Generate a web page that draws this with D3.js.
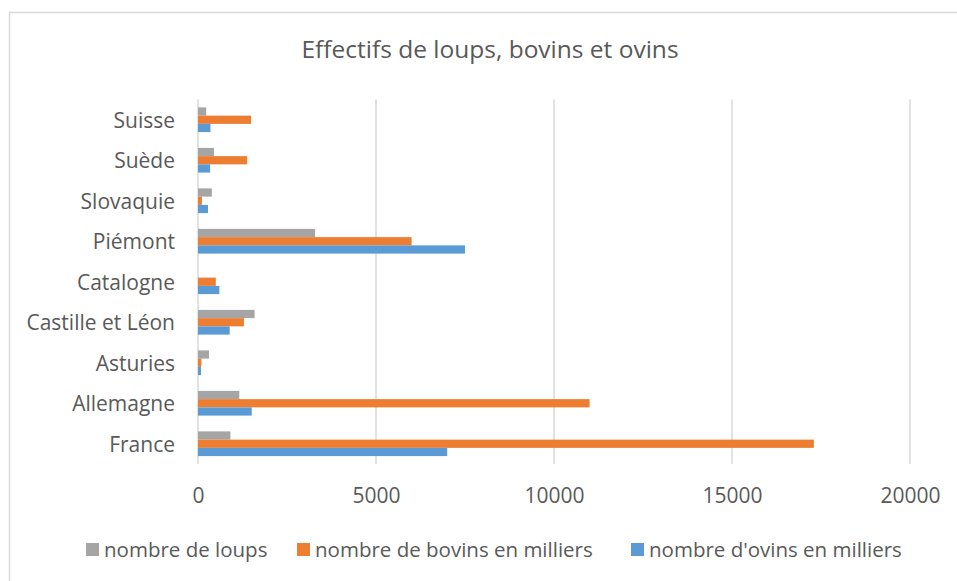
<!DOCTYPE html>
<html><head><meta charset="utf-8">
<script src="https://cdn.jsdelivr.net/npm/d3@7"></script>
<style>body{margin:0;background:#fff}svg{display:block}text{font-family:"Open Sans",sans-serif;fill:#595959}</style>
</head><body>
<svg id="c" width="957" height="581"></svg>
<script>
const categories = ["France","Allemagne","Asturies","Castille et Léon","Catalogne","Piémont","Slovaquie","Suède","Suisse"];
const seriesNames = ["nombre de loups","nombre de bovins en milliers","nombre d'ovins en milliers"];
const loups  = [910, 1160, 310, 1590, 0, 3290, 390, 450, 230];
const bovins = [17300, 11000, 95, 1290, 500, 6000, 110, 1380, 1490];
const ovins  = [7000, 1510, 85, 890, 600, 7500, 280, 340, 350];
const xTicks = [0, 5000, 10000, 15000, 20000];
const colors = ["#a5a5a5","#ed7d31","#5b9bd5"];

const series = [loups, bovins, ovins];
const svg = d3.select("#c");
svg.append("rect").attr("x",9.5).attr("y",12.5).attr("width",960).attr("height",600)
  .attr("fill","#fff").attr("stroke","#d9d9d9").attr("stroke-width",1.5);

const L=198, R=910, T=99.5, B=464;
const x = d3.scaleLinear().domain([0,20000]).range([L,R]);
const y = d3.scaleBand().domain(categories.slice().reverse()).range([T,B]).paddingInner(0.39).paddingOuter(0.195);
const ys = d3.scaleBand().domain(d3.range(3)).range([0,y.bandwidth()]);

svg.append("text").attr("x",490).attr("y",58).attr("text-anchor","middle").style("font-size","24.5px").text("Effectifs de loups, bovins et ovins");

svg.append("g").selectAll("line").data(xTicks).join("line")
  .attr("x1",d=>x(d)).attr("x2",d=>x(d)).attr("y1",T).attr("y2",B)
  .attr("stroke","#d9d9d9").attr("stroke-width",1.5);

const xAxis = svg.append("g").attr("transform",`translate(0,${B})`)
  .call(d3.axisBottom(x).tickValues(xTicks).tickFormat(d3.format("d")).tickSize(0).tickPadding(24.5));
xAxis.select(".domain").remove();
xAxis.selectAll("text").style("font-size","21px").style("font-family","'Open Sans',sans-serif").attr("fill","#595959");

const yAxis = svg.append("g").attr("transform",`translate(${L},1.5)`)
  .call(d3.axisLeft(y).tickSize(0).tickPadding(23));
yAxis.select(".domain").remove();
yAxis.selectAll("text").style("font-size","21px").style("font-family","'Open Sans',sans-serif").attr("fill","#595959");

series.forEach((vals,si)=>{
  svg.append("g").selectAll("rect").data(categories).join("rect")
    .attr("x",x(0)).attr("y",(c)=>y(c)+ys(si))
    .attr("width",(c,i)=>x(vals[i])-x(0)).attr("height",ys.bandwidth())
    .attr("fill",colors[si]);
});

const legX=[86,297,631];
const lg = svg.append("g");
seriesNames.forEach((n,i)=>{
  lg.append("rect").attr("x",legX[i]).attr("y",543).attr("width",13).attr("height",13).attr("fill",colors[i]);
  lg.append("text").attr("x",legX[i]+18).attr("y",557).style("font-size","20.5px").text(n);
});
</script>
</body></html>
